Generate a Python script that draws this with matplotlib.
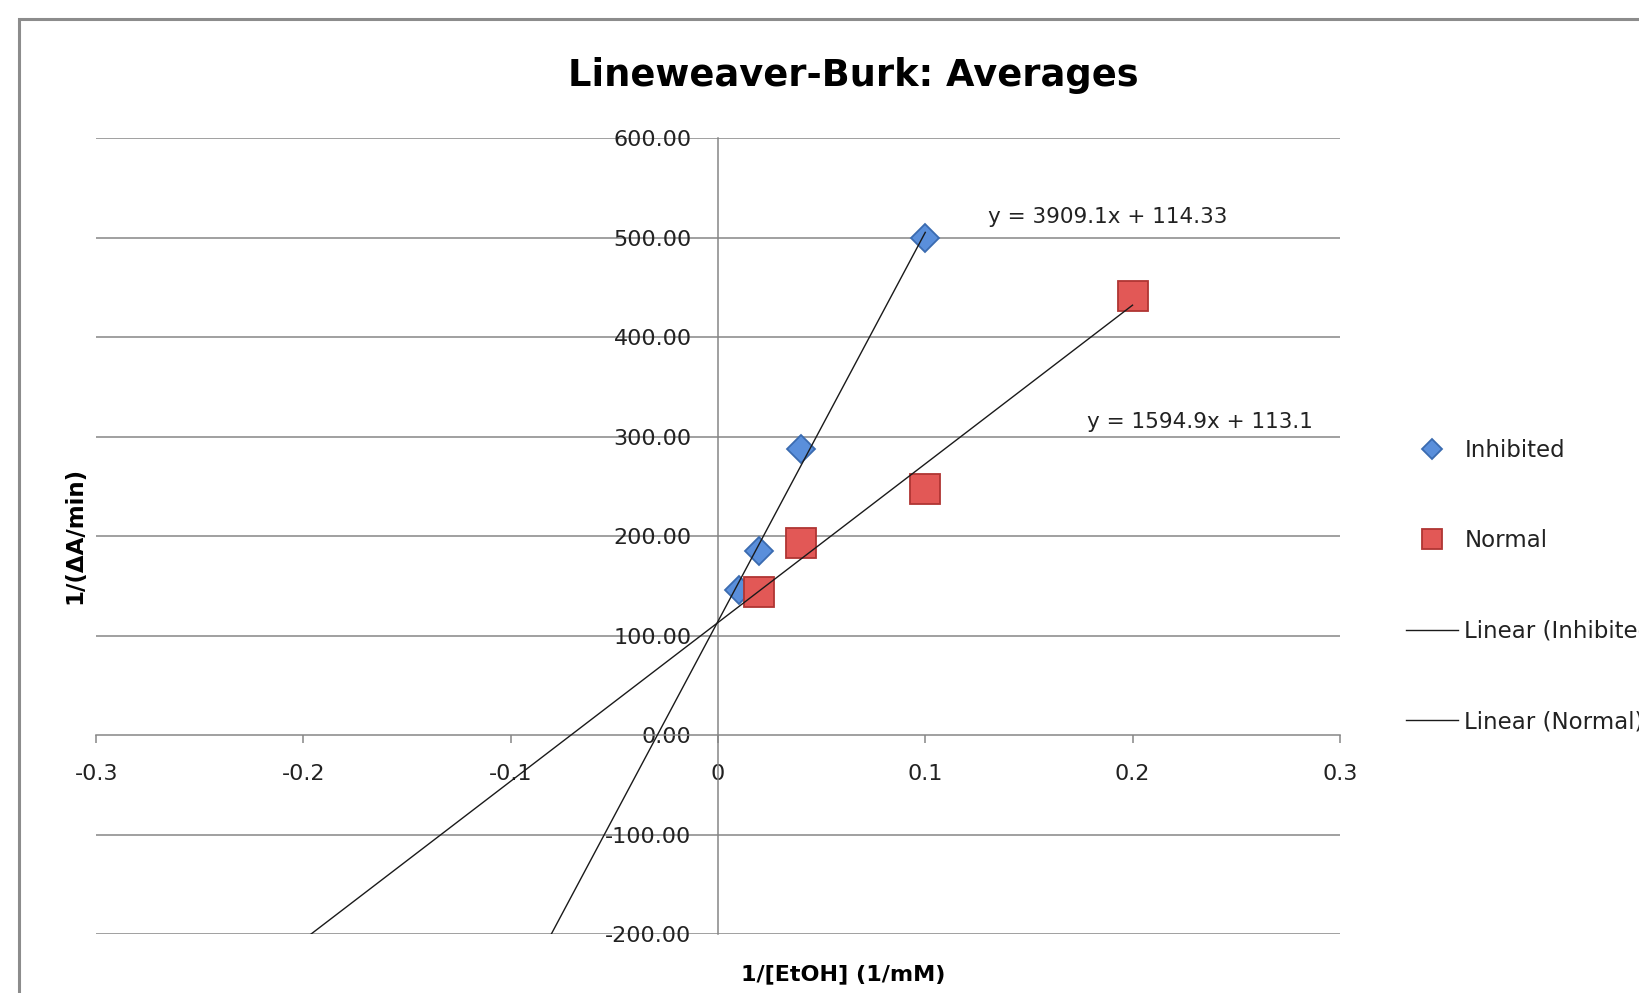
import matplotlib
matplotlib.use("Agg")
import matplotlib.pyplot as plt
import numpy as np
from matplotlib.patches import Rectangle

# data
inhibited_x = [0.01, 0.02, 0.04, 0.1]
inhibited_y = [146.0, 185.0, 288.0, 500.0]
normal_x = [0.02, 0.04, 0.1, 0.2]
normal_y = [144.0, 193.5, 247.0, 441.0]

# trendline coefficients shown on the chart
inhibited_fit = (3909.1, 114.33)
normal_fit = (1594.9, 113.1)
forecast_back = 0.25

x_ticks = [-0.3, -0.2, -0.1, 0, 0.1, 0.2, 0.3]
x_labels = ["-0.3", "-0.2", "-0.1", "0", "0.1", "0.2", "0.3"]
y_ticks = [-200, -100, 0, 100, 200, 300, 400, 500, 600]

W, H = 1640, 993
fig = plt.figure(figsize=(W / 100, H / 100), dpi=100)
ax = fig.add_axes([96.2 / W, 1 - 934 / H, (1339.8 - 96.2) / W, (934 - 138.1) / H])

grey = "#868686"

# outer chart frame
fig.patches.append(Rectangle((19 / W, -0.1), 1.2, 1 - 19 / H + 0.1, transform=fig.transFigure,
                             fill=False, edgecolor="#8c8c8c", linewidth=2.2))

ax.set_xlim(-0.3, 0.3)
ax.set_ylim(-200, 600)

for y in y_ticks:
    if y != 0:
        ax.axhline(y, color=grey, linewidth=1.1, zorder=1)

ax.spines["left"].set_position(("data", 0))
ax.spines["bottom"].set_position(("data", 0))
ax.spines["right"].set_visible(False)
ax.spines["top"].set_visible(False)
ax.spines["left"].set_color(grey)
ax.spines["bottom"].set_color(grey)
ax.spines["left"].set_linewidth(1.1)
ax.spines["bottom"].set_linewidth(1.1)

ax.set_xticks(x_ticks, labels=x_labels)
ax.set_yticks(y_ticks, labels=[f"{v:.2f}" for v in y_ticks])
ax.tick_params(axis="x", direction="out", length=6, width=1.1, color=grey, pad=15,
               labelsize=16, labelcolor="#222222")
ax.tick_params(axis="y", length=0, pad=19, labelsize=16, labelcolor="#222222")
ax.patch.set_alpha(0)

ax.plot(inhibited_x, inhibited_y, linestyle="none", marker="D", markersize=14,
        markerfacecolor="#5a8fdb", markeredgecolor="#3b6bb0", markeredgewidth=1.3,
        label="Inhibited", zorder=3)
ax.plot(normal_x, normal_y, linestyle="none", marker="s", markersize=21,
        markerfacecolor="#e25856", markeredgecolor="#b03533", markeredgewidth=1.3,
        label="Normal", zorder=3)

for xs, (m, b), name in [(inhibited_x, inhibited_fit, "Linear (Inhibited)"),
                         (normal_x, normal_fit, "Linear (Normal)")]:
    lx = np.array([min(xs) - forecast_back, max(xs)])
    ax.plot(lx, m * lx + b, color="#1a1a1a", linewidth=1.0, label=name, zorder=4)

ax.text(0.1302, 520.5, "y = 3909.1x + 114.33", fontsize=15.5, va="center", ha="left", color="#222222")
ax.text(0.1781, 314.4, "y = 1594.9x + 113.1", fontsize=15.5, va="center", ha="left", color="#222222")

fig.text(853.5 / W, 1 - 86 / H, "Lineweaver-Burk: Averages", fontsize=26.5, fontweight="bold",
         ha="center", va="baseline")
fig.text(843 / W, 1 - 974 / H, "1/[EtOH] (1/mM)", fontsize=16, fontweight="bold",
         ha="center", va="center")
fig.text(75 / W, 1 - 535 / H, "1/(\u0394A/min)", fontsize=16.5, fontweight="bold",
         ha="center", va="center", rotation=90)

fig.legend(loc="center left", bbox_to_anchor=(1405.6 / W, 1 - 586 / H), frameon=False,
           fontsize=16.5, labelspacing=2.95, handlelength=2.27, handletextpad=0.3,
           borderpad=0, borderaxespad=0, markerscale=0.7, labelcolor="#222222")

fig.savefig("out.png", dpi=100)
